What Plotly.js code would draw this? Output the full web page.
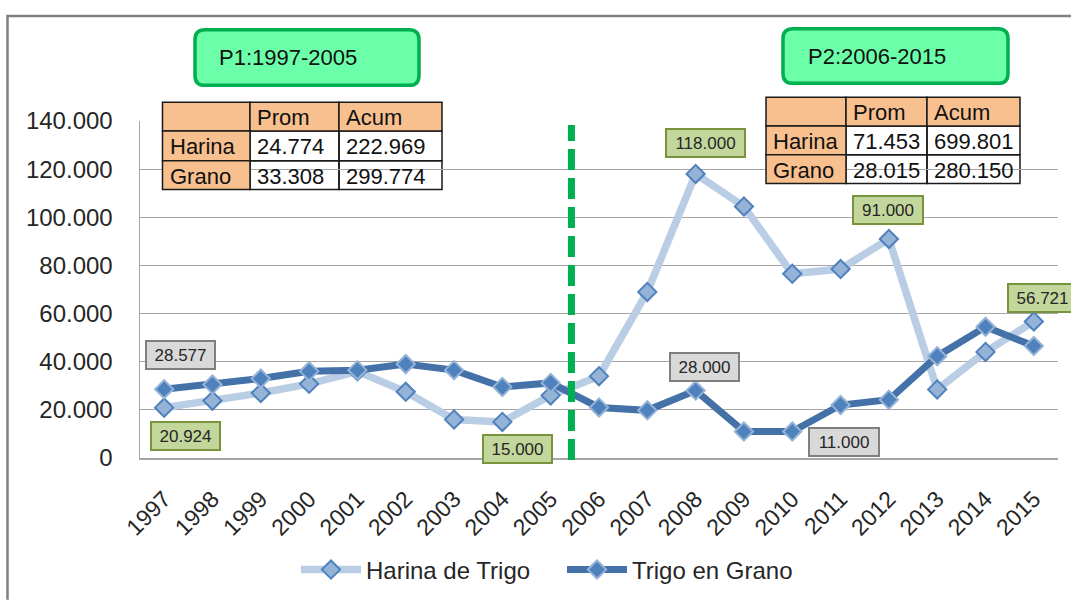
<!DOCTYPE html>
<html>
<head>
<meta charset="utf-8">
<script src="https://cdn.plot.ly/plotly-3.0.1.min.js"></script>
<style>html,body{margin:0;padding:0;background:#fff;}#chart{width:1071px;height:604px;}</style>
</head>
<body>
<div id="chart"></div>
<script>
// ---- data ----
const years = ["1997","1998","1999","2000","2001","2002","2003","2004","2005","2006","2007","2008","2009","2010","2011","2012","2013","2014","2015"];
const harina = [20924, 23800, 27000, 30800, 36000, 27500, 16000, 15000, 26000, 34000, 69000, 118000, 104500, 76500, 78500, 91000, 28500, 44080, 56721];
const grano  = [28577, 30500, 33000, 36000, 36500, 39000, 36500, 29500, 31197, 21000, 19800, 28000, 11000, 11000, 22000, 24200, 42300, 54500, 46500];
const seriesNames = ["Harina de Trigo", "Trigo en Grano"];
const periodTitles = ["P1:1997-2005", "P2:2006-2015"];
const tableHeader = ["", "Prom", "Acum"];
const p1Rows = [["Harina", "24.774", "222.969"], ["Grano", "33.308", "299.774"]];
const p2Rows = [["Harina", "71.453", "699.801"], ["Grano", "28.015", "280.150"]];
const yTicks = [0, 20000, 40000, 60000, 80000, 100000, 120000, 140000];

// ---- helpers ----
const L = 140, R = 13, T = 121, B = 143, W = 1071, H = 604;
const PW = W - L - R, PH = H - T - B;
const PX = px => (px - L) / PW;
const PY = py => (H - B - py) / PH;
function fmt(v) { return String(Math.round(v)).replace(/\B(?=(\d{3})+(?!\d))/g, "."); }
function roundRect(x0, y0, x1, y1, r) {
  return `M ${PX(x0 + r)},${PY(y0)} L ${PX(x1 - r)},${PY(y0)} Q ${PX(x1)},${PY(y0)} ${PX(x1)},${PY(y0 + r)} ` +
         `L ${PX(x1)},${PY(y1 - r)} Q ${PX(x1)},${PY(y1)} ${PX(x1 - r)},${PY(y1)} ` +
         `L ${PX(x0 + r)},${PY(y1)} Q ${PX(x0)},${PY(y1)} ${PX(x0)},${PY(y1 - r)} ` +
         `L ${PX(x0)},${PY(y0 + r)} Q ${PX(x0)},${PY(y0)} ${PX(x0 + r)},${PY(y0)} Z`;
}
const FONT = "Liberation Sans, Arial, sans-serif";
const TXT = "#262626";

// ---- traces ----
const traces = [
  {
    x: years, y: harina, name: seriesNames[0], type: "scatter", mode: "lines+markers",
    line: { color: "#B9CDE5", width: 7.5 },
    marker: { symbol: "diamond", size: 14, color: "#95B3D7", line: { color: "#4F81BD", width: 2 } }
  },
  {
    x: years, y: grano, name: seriesNames[1], type: "scatter", mode: "lines+markers",
    line: { color: "#4472A8", width: 7 },
    marker: { symbol: "diamond", size: 14, color: "#4F81BD", line: { color: "#95B3D7", width: 2 } }
  }
];

// ---- shapes ----
const shapes = [];
// outer frame
shapes.push({ type: "path", xref: "paper", yref: "paper", layer: "above",
  path: `M ${PX(7.5)},${PY(604)} L ${PX(7.5)},${PY(15)} L ${PX(1071)},${PY(15)}`,
  line: { color: "#808080", width: 2.5 } });
// period boxes
const boxes = [[195, 29, 419, 85], [783, 28, 1008, 83]];
boxes.forEach(b => shapes.push({ type: "path", xref: "paper", yref: "paper", layer: "above",
  path: roundRect(b[0], b[1], b[2], b[3], 10), fillcolor: "#6BFFA9", line: { color: "#00B050", width: 3.5 } }));
// dashed separator between periods
shapes.push({ type: "line", xref: "x", yref: "paper", layer: "above",
  x0: 8.43, x1: 8.43, y0: PY(463), y1: PY(125),
  line: { color: "#00B050", width: 7, dash: "21px,8px" } });

// tables
const annotations = [];
function addTable(xs, ys, rows) {
  const all = [tableHeader].concat(rows);
  for (let r = 0; r < 3; r++) {
    for (let c = 0; c < 3; c++) {
      const orange = (r === 0 || c === 0);
      shapes.push({ type: "rect", xref: "paper", yref: "paper", layer: orange ? "above" : "below",
        x0: PX(xs[c]), x1: PX(xs[c + 1]), y0: PY(ys[r + 1]), y1: PY(ys[r]),
        fillcolor: orange ? "#F9C08F" : "rgba(255,255,255,0)", line: { color: "#1a1a1a", width: 1.5 } });
      const t = all[r][c];
      if (t) annotations.push({ xref: "paper", yref: "paper", x: PX(xs[c] + 5), y: PY((ys[r] + ys[r + 1]) / 2 + 1),
        xanchor: "left", yanchor: "middle", showarrow: false, text: t,
        font: { family: FONT, size: 22, color: "#111" } });
    }
  }
}
addTable([162.5, 250, 339, 442], [102, 131, 161, 190], p1Rows);
addTable([766, 846, 927, 1020], [97, 126, 155, 184], p2Rows);

// period titles
annotations.push({ xref: "paper", yref: "paper", x: PX(217), y: PY(57), xanchor: "left", yanchor: "middle",
  showarrow: false, text: periodTitles[0], font: { family: FONT, size: 22, color: "#111" } });
annotations.push({ xref: "paper", yref: "paper", x: PX(806), y: PY(56), xanchor: "left", yanchor: "middle",
  showarrow: false, text: periodTitles[1], font: { family: FONT, size: 22, color: "#111" } });

// data labels
const green = { bg: "#C3D69B", bd: "#77933C" }, gray = { bg: "#D9D9D9", bd: "#7F7F7F" };
const labelSpecs = [
  { s: grano, i: 0, dx: 16, dy: 34, c: gray, w: 63 },
  { s: harina, i: 0, dx: 21, dy: -28, c: green, w: 63 },
  { s: harina, i: 7, dx: 15, dy: -27, c: green, w: 63 },
  { s: harina, i: 11, dx: 10, dy: 31, c: green, w: 73 },
  { s: harina, i: 15, dx: -1, dy: 29, c: green, w: 64 },
  { s: harina, i: 18, dx: 9, dy: 23, c: green, w: 63 },
  { s: grano, i: 11, dx: 9, dy: 24, c: gray, w: 63 },
  { s: grano, i: 13, dx: 52, dy: -10, c: gray, w: 64 }
];
labelSpecs.forEach(l => annotations.push({
  xref: "x", yref: "y", x: l.i, y: l.s[l.i], xshift: l.dx, yshift: l.dy,
  showarrow: false, text: fmt(l.s[l.i]), xanchor: "center", yanchor: "middle",
  width: l.w, height: 22, borderpad: 2, borderwidth: 2,
  bgcolor: l.c.bg, bordercolor: l.c.bd, font: { family: FONT, size: 17, color: TXT }
}));

const layout = {
  width: W, height: H,
  margin: { l: L, r: R, t: T, b: B, pad: 0 },
  paper_bgcolor: "#ffffff", plot_bgcolor: "rgba(0,0,0,0)",
  separators: ",.",
  showlegend: true,
  legend: { orientation: "h", x: PX(296), xanchor: "left", y: PY(574), yanchor: "middle",
    font: { family: FONT, size: 24, color: TXT }, bgcolor: "rgba(0,0,0,0)", itemwidth: 60,
    entrywidth: 191, entrywidthmode: "pixels" },
  xaxis: {
    type: "category", tickangle: -45, showgrid: false, showline: true, linecolor: "#A6A6A6", linewidth: 1.5,
    ticks: "", ticklabelstandoff: 17, tickfont: { family: FONT, size: 23, color: TXT }, range: [-0.5, 18.5], fixedrange: true
  },
  yaxis: {
    range: [0, 140000], tickvals: yTicks, ticktext: yTicks.map(v => v === 0 ? "0" : fmt(v)),
    showgrid: true, gridcolor: "#A6A6A6", gridwidth: 1, zeroline: false, showline: true, linecolor: "#A6A6A6", linewidth: 1.5,
    ticks: "", ticklabelstandoff: 21, tickfont: { family: FONT, size: 24, color: TXT }, fixedrange: true
  },
  shapes: shapes,
  annotations: annotations
};

Plotly.newPlot("chart", traces, layout, { displayModeBar: false, staticPlot: true });
</script>
</body>
</html>
